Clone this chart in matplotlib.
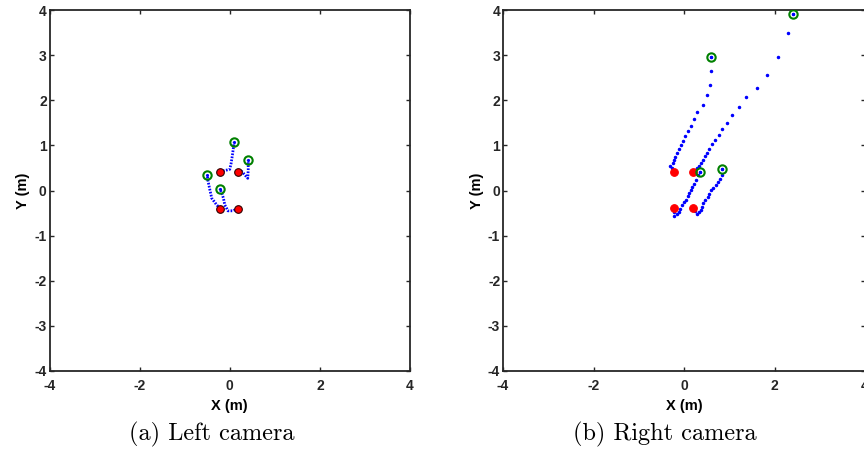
import matplotlib
matplotlib.use("Agg")
import matplotlib.pyplot as plt

plt.rcParams['axes.unicode_minus'] = False

# start (red) and end (green) positions, left camera
left_start_x = [-0.21, 0.18, -0.21, 0.18]
left_start_y = [0.40, 0.40, -0.40, -0.40]
left_end_x = [0.10, 0.41, -0.50, -0.22]
left_end_y = [1.07, 0.68, 0.34, 0.04]

# trajectories, left camera (dense dotted)
left_tracks = [
    ([-0.21, -0.12, 0.00, 0.03, 0.06, 0.08, 0.10],
     [0.40, 0.44, 0.47, 0.60, 0.79, 0.94, 1.07]),
    ([0.18, 0.27, 0.40, 0.41, 0.41],
     [0.40, 0.42, 0.27, 0.46, 0.68]),
    ([-0.21, -0.29, -0.40, -0.44, -0.48, -0.50],
     [-0.40, -0.32, -0.17, 0.01, 0.20, 0.34]),
    ([0.18, 0.07, -0.04, -0.11, -0.14, -0.18, -0.22],
     [-0.40, -0.45, -0.45, -0.32, -0.17, -0.05, 0.04]),
]

# right camera
right_start_x = [-0.21, 0.20, -0.21, 0.20]
right_start_y = [0.40, 0.40, -0.39, -0.39]
right_end_x = [0.59, 2.41, 0.35, 0.85]
right_end_y = [2.96, 3.92, 0.42, 0.47]

right_tracks = [
    ([-0.21, -0.24, -0.27, -0.31, -0.25, -0.22, -0.19, -0.15, -0.11, -0.07, -0.02,
      0.03, 0.09, 0.15, 0.22, 0.28, 0.41, 0.50, 0.57, 0.60, 0.59],
     [0.40, 0.45, 0.50, 0.54, 0.60, 0.68, 0.75, 0.83, 0.92, 1.01, 1.10,
      1.20, 1.31, 1.44, 1.58, 1.73, 1.90, 2.11, 2.34, 2.65, 2.96]),
    ([0.20, 0.24, 0.28, 0.33, 0.38, 0.42, 0.46, 0.50, 0.55, 0.61, 0.68, 0.77, 0.85,
      0.96, 1.07, 1.21, 1.37, 1.61, 1.84, 2.07, 2.30, 2.41],
     [0.40, 0.45, 0.50, 0.54, 0.60, 0.68, 0.76, 0.84, 0.93, 1.03, 1.13, 1.24, 1.37,
      1.50, 1.67, 1.85, 2.07, 2.27, 2.56, 2.95, 3.49, 3.92]),
    ([-0.21, -0.21, -0.21, -0.16, -0.11, -0.08, -0.04, 0.00, 0.04, 0.08, 0.11, 0.15,
      0.18, 0.22, 0.26, 0.31, 0.35],
     [-0.39, -0.47, -0.56, -0.52, -0.47, -0.40, -0.32, -0.26, -0.20, -0.13, -0.06, 0.01,
      0.07, 0.15, 0.23, 0.34, 0.42]),
    ([0.20, 0.24, 0.28, 0.33, 0.37, 0.40, 0.43, 0.47, 0.52, 0.56, 0.60, 0.65, 0.70,
      0.75, 0.79, 0.85, 0.85],
     [-0.39, -0.46, -0.52, -0.48, -0.43, -0.36, -0.28, -0.21, -0.14, -0.07, 0.01, 0.06, 0.12,
      0.19, 0.25, 0.34, 0.47]),
]

captions = ["(a) Left camera", "(b) Right camera"]
ticks = [-4, -3, -2, -1, 0, 1, 2, 3, 4]
xticks = [-4, -2, 0, 2, 4]

fig = plt.figure(figsize=(8.64, 4.54), dpi=100)
ax1 = fig.add_axes([49.5 / 864, 83 / 454, 360.5 / 864, 361 / 454])
ax2 = fig.add_axes([503 / 864, 83 / 454, 362 / 864, 361 / 454])

datasets = [
    (ax1, left_tracks, left_start_x, left_start_y, left_end_x, left_end_y, True),
    (ax2, right_tracks, right_start_x, right_start_y, right_end_x, right_end_y, False),
]

for ax, tracks, sx, sy, ex, ey, dense in datasets:
    for tx, ty in tracks:
        if dense:
            ax.plot(tx, ty, color="blue", ls=(0, (0.6, 0.5)), lw=2.0, zorder=2)
        else:
            ax.plot(tx, ty, ".", color="blue", ms=3, zorder=2)
    ax.plot(sx, sy, "o", mfc="red", mec="#300000" if dense else "red", mew=0.8,
            ms=5.5, zorder=3)
    ax.plot(ex, ey, "o", mfc="none", mec="green", mew=1.5, ms=6, zorder=3)
    ax.plot(ex, ey, ".", color="blue", ms=2.5, zorder=4)

    ax.set_xlim(-4, 4)
    ax.set_ylim(-4, 4)
    ax.set_xticks(xticks)
    ax.set_yticks(ticks)
    ax.tick_params(direction="in", length=3, width=1, top=True, right=True,
                   colors="#262626", labelsize=10, pad=2)
    ax.tick_params(axis="x", pad=6)
    for lab in ax.get_xticklabels() + ax.get_yticklabels():
        lab.set_fontweight("bold")
        lab.set_family("Liberation Sans")
    for sp in ax.spines.values():
        sp.set_linewidth(1.3)
        sp.set_color("#262626")
    ax.set_xlabel("X (m)", fontsize=10.5, fontweight="bold", family="Liberation Sans",
                  labelpad=4)
    ax.set_ylabel("Y (m)", fontsize=10.5, fontweight="bold", family="Liberation Sans",
                  labelpad=3)

fig.text(212 / 864, 1 - 434 / 454, captions[0], ha="center", va="center",
         family="cmr10", fontsize=17.5)
fig.text(665 / 864, 1 - 434 / 454, captions[1], ha="center", va="center",
         family="cmr10", fontsize=17.5)

fig.savefig("out.png", dpi=100)
